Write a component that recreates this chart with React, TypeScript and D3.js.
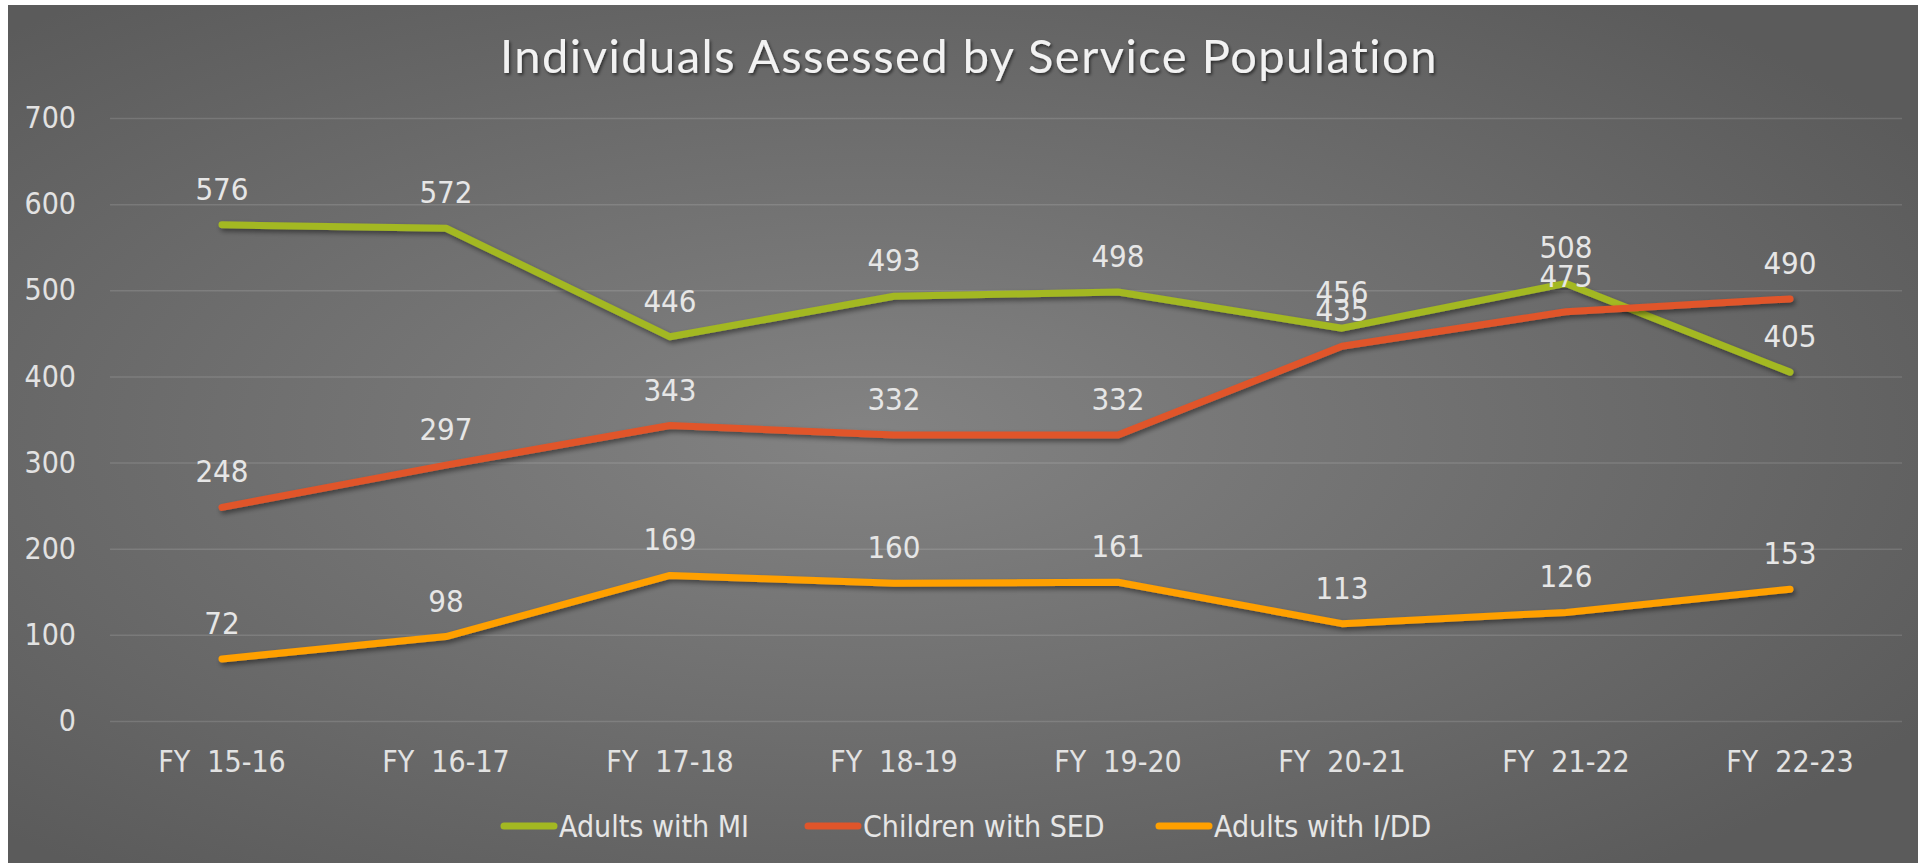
import { useEffect, useRef } from "react";
import * as d3 from "d3";

const years = ["FY  15-16", "FY  16-17", "FY  17-18", "FY  18-19", "FY  19-20", "FY  20-21", "FY  21-22", "FY  22-23"];
const adultsMI = [576, 572, 446, 493, 498, 456, 508, 405];
const childrenSED = [248, 297, 343, 332, 332, 435, 475, 490];
const adultsIDD = [72, 98, 169, 160, 161, 113, 126, 153];
const yTicks = [0, 100, 200, 300, 400, 500, 600, 700];

const series = [
  { name: "Adults with MI", values: adultsMI, color: "#a3b822" },
  { name: "Children with SED", values: childrenSED, color: "#e0552a" },
  { name: "Adults with I/DD", values: adultsIDD, color: "#ffa000" },
];

const FONT = "'DejaVu Sans Condensed', 'DejaVu Sans', sans-serif";

export default function App() {
  const ref = useRef<SVGSVGElement>(null);

  useEffect(() => {
    const svg = d3.select(ref.current!);
    svg.selectAll("*").remove();
    const W = 1918,
      H = 865;
    const m = { left: 110, right: 16, top: 118, bottom: 144 };

    const defs = svg.append("defs");
    const grad = defs
      .append("radialGradient")
      .attr("id", "bg")
      .attr("cx", "45%")
      .attr("cy", "50%")
      .attr("r", "65%");
    grad.append("stop").attr("offset", "0%").attr("stop-color", "#838383");
    grad.append("stop").attr("offset", "100%").attr("stop-color", "#5b5b5b");

    const sh = defs.append("filter").attr("id", "shadow").attr("x", "-5%").attr("y", "-20%").attr("width", "110%").attr("height", "140%");
    sh.append("feDropShadow").attr("dx", 2).attr("dy", 3).attr("stdDeviation", 2.5).attr("flood-color", "#000").attr("flood-opacity", 0.45);

    const tsh = defs.append("filter").attr("id", "tshadow");
    tsh.append("feDropShadow").attr("dx", 1.5).attr("dy", 2).attr("stdDeviation", 1.5).attr("flood-color", "#000").attr("flood-opacity", 0.55);

    svg.append("rect").attr("x", 8).attr("y", 5).attr("width", W - 8).attr("height", H - 7).attr("fill", "url(#bg)");

    /* ── SCALES ─────────────────────────────── */
    const x = d3.scaleBand<string>().domain(years).range([m.left, W - m.right]);
    const y = d3.scaleLinear().domain([0, 700]).range([H - m.bottom, m.top]);
    const cx = (i: number) => x(years[i])! + x.bandwidth() / 2;

    /* ── TITLE ──────────────────────────────── */
    svg
      .append("text")
      .attr("x", 969)
      .attr("y", 73)
      .attr("text-anchor", "middle")
      .attr("font-family", "Lato, 'Open Sans', sans-serif")
      .attr("font-size", 47)
      .attr("letter-spacing", 1.5)
      .attr("fill", "#f2f2f2")
      .attr("filter", "url(#tshadow)")
      .text("Individuals Assessed by Service Population");

    /* ── AXES ───────────────────────────────── */
    const gy = svg
      .append("g")
      .attr("transform", `translate(${m.left},0)`)
      .call(d3.axisLeft(y).tickValues(yTicks).tickSize(-(W - m.left - m.right)).tickPadding(34));
    gy.select(".domain").remove();
    gy.selectAll(".tick line").attr("stroke", "#ffffff").attr("stroke-opacity", 0.13).attr("stroke-width", 1.5);
    gy.selectAll(".tick text")
      .attr("font-family", FONT)
      .attr("font-stretch", "condensed")
      .attr("font-size", 30)
      .attr("fill", "#e2e2e2");

    const gx = svg
      .append("g")
      .attr("transform", `translate(0,${H - m.bottom})`)
      .call(d3.axisBottom(x).tickSize(0).tickPadding(30));
    gx.select(".domain").remove();
    gx.selectAll(".tick text")
      .attr("font-family", FONT)
      .attr("font-stretch", "condensed")
      .attr("font-size", 30)
      .attr("fill", "#e2e2e2")
      .style("white-space", "pre");

    /* ── LINES + LABELS ─────────────────────── */
    const line = d3
      .line<number>()
      .x((_, i) => cx(i))
      .y((d) => y(d));

    series.forEach((s) => {
      svg
        .append("path")
        .datum(s.values)
        .attr("d", line)
        .attr("fill", "none")
        .attr("stroke", s.color)
        .attr("stroke-width", 7)
        .attr("stroke-linecap", "round")
        .attr("stroke-linejoin", "round")
        .attr("filter", "url(#shadow)");
    });

    series.forEach((s) => {
      svg
        .append("g")
        .selectAll("text")
        .data(s.values)
        .join("text")
        .attr("x", (_, i) => cx(i))
        .attr("y", (d) => y(d) - 25)
        .attr("text-anchor", "middle")
        .attr("font-family", FONT)
        .attr("font-stretch", "condensed")
        .attr("font-size", 31)
        .attr("fill", "#e6e6e6")
        .text((d) => d);
    });

    /* ── LEGEND ─────────────────────────────── */
    const legendX = [501, 805, 1156];
    const ly = 826;
    series.forEach((s, i) => {
      const g = svg.append("g").attr("transform", `translate(${legendX[i]},${ly})`);
      g.append("line")
        .attr("x1", 3)
        .attr("x2", 53)
        .attr("stroke", s.color)
        .attr("stroke-width", 7)
        .attr("stroke-linecap", "round");
      g.append("text")
        .attr("x", 58)
        .attr("y", 11)
        .attr("font-family", FONT)
        .attr("font-stretch", "condensed")
        .attr("font-size", 30)
        .attr("fill", "#e6e6e6")
        .text(s.name);
    });
  }, []);

  return <svg ref={ref} width={1918} height={865} style={{ position: "absolute", left: 0, top: 0 }} />;
}
